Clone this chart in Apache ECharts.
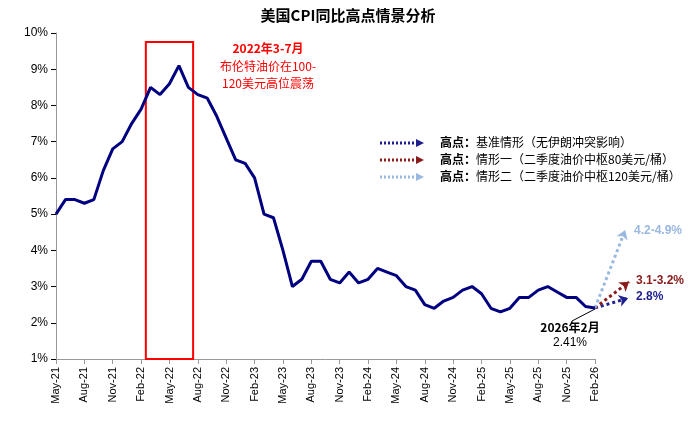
<!DOCTYPE html>
<html><head><meta charset="utf-8">
<script src="https://cdn.jsdelivr.net/npm/echarts@6/dist/echarts.min.js"></script>
<style>body{margin:0}#c{width:696px;height:427px}</style></head>
<body><div id="c"></div>
<script>
// 月份
var months = [];
var mon = ['Jan','Feb','Mar','Apr','May','Jun','Jul','Aug','Sep','Oct','Nov','Dec'];
for (var y = 21; y <= 26; y++) {
	for (var m = 0; m < 12; m++) {
		if (y == 21 && m < 4) continue;
		if (y == 26 && m > 1) break;
		months.push(mon[m] + '-' + y);
	}
}
// CPI同比(%)
var cpi = [5.0, 5.4, 5.4, 5.3, 5.4, 6.2, 6.8, 7.0,
	7.5, 7.9, 8.5, 8.3, 8.6, 9.1, 8.5, 8.3, 8.2, 7.7, 7.1, 6.5,
	6.4, 6.0, 5.0, 4.9, 4.0, 3.0, 3.2, 3.7, 3.7, 3.2, 3.1, 3.4,
	3.1, 3.2, 3.5, 3.4, 3.3, 3.0, 2.9, 2.5, 2.4, 2.6, 2.7, 2.9,
	3.0, 2.8, 2.4, 2.3, 2.4, 2.7, 2.7, 2.9, 3.0, 2.85, 2.7, 2.7,
	2.45, 2.41];
// 情景终点 [x序号, 值]
var scenEnd = [[60.5, 2.68], [60.6, 3.13], [60.2, 4.56]];
var scenColor = ['#1f1f8f', '#8b1a1a', '#9ab8e0'];
var scenLabel = ['2.8%', '3.1-3.2%', '4.2-4.9%'];
var scenName = ['基准情形（无伊朗冲突影响）', '情形一（二季度油价中枢80美元/桶）', '情形二（二季度油价中枢120美元/桶）'];
var yTicks = [1, 10];

var last = cpi.length - 1;
var series = [{
	type: 'line', data: cpi, symbol: 'none',
	lineStyle: { color: '#000080', width: 3 }, z: 5
}, {
	type: 'line', xAxisIndex: 1, data: [], symbol: 'none',
	markArea: {
		silent: true,
		itemStyle: { color: 'rgba(0,0,0,0)', borderColor: '#ff0000', borderWidth: 2 },
		data: [[{ coord: [9.5, 1] }, { coord: [14.5, 9.75] }]]
	}
}];
scenEnd.forEach(function(e, i) {
	series.push({
		type: 'lines', coordinateSystem: 'cartesian2d', xAxisIndex: 1, clip: false, z: 4,
		symbol: ['none', 'arrow'], symbolSize: 9,
		lineStyle: { color: scenColor[i], width: 3, type: 'dotted', opacity: 1 },
		data: [{ coords: [[last, cpi[last]], e] }]
	});
});

var graphic = [{
	type: 'text', left: 'center', top: 8,
	style: { text: '美国CPI同比高点情景分析', font: 'bold 15px "Noto Sans CJK SC"', fill: '#000' }
}, {
	type: 'text', x: 268, y: 42,
	style: { text: '2022年3-7月', font: 'bold 12px "Noto Sans CJK SC"', fill: '#ff0000', align: 'center' }
}, {
	type: 'text', x: 268, y: 58,
	style: { text: '布伦特油价在100-\n120美元高位震荡', font: '12px "Noto Sans CJK SC"', fill: '#ff0000', align: 'center', lineHeight: 17 }
}, {
	type: 'text', x: 570, y: 321,
	style: { text: '2026年2月', font: 'bold 12px "Noto Sans CJK SC"', fill: '#000', align: 'center' }
}, {
	type: 'text', x: 570, y: 337,
	style: { text: '2.41%', font: '12px "Liberation Sans"', fill: '#000', align: 'center' }
}, {
	type: 'line', shape: { x1: 595, y1: 309, x2: 572, y2: 321 }, style: { stroke: '#000', lineWidth: 1 }
}];
scenName.forEach(function(n, i) {
	var yy = 143 + i * 17;
	graphic.push({ type: 'line', shape: { x1: 380, y1: yy, x2: 416, y2: yy },
		style: { stroke: scenColor[i], lineWidth: 3, lineDash: [2, 2] } });
	graphic.push({ type: 'polygon', shape: { points: [[416, yy - 4], [424, yy], [416, yy + 4]] },
		style: { fill: scenColor[i] } });
	graphic.push({ type: 'text', x: 440, y: yy - 7,
		style: { rich: { b: { font: 'bold 12px "Noto Sans CJK SC"' }, n: { font: '12px "Noto Sans CJK SC"' } },
			text: '{b|高点：}{n|' + n + '}', fill: '#000' } });
});
var lblY = [298, 282, 232], lblX = [636, 636, 634];
scenLabel.forEach(function(t, i) {
	graphic.push({ type: 'text', x: lblX[i], y: lblY[i] - 7,
		style: { text: t, font: 'bold 12px "Liberation Sans"', fill: scenColor[i] } });
});

var chart = echarts.init(document.getElementById('c'));
chart.setOption({
	animation: false,
	grid: { left: 56, right: 101, top: 33, bottom: 68 },
	xAxis: [{
		type: 'category', data: months, boundaryGap: false,
		axisLine: { lineStyle: { color: '#999' } },
		axisTick: { interval: 2, lineStyle: { color: '#999' } },
		axisLabel: { interval: 2, rotate: 90, color: '#000', fontSize: 11, fontFamily: 'Liberation Sans' }
	}, {
		type: 'value', min: 0, max: last, show: false
	}],
	yAxis: {
		type: 'value', min: yTicks[0], max: yTicks[1], interval: 1,
		splitLine: { show: false },
		axisLine: { show: true, lineStyle: { color: '#999' } },
		axisTick: { show: true, lineStyle: { color: '#000' } },
		axisLabel: { formatter: '{value}%', color: '#000', fontSize: 12, fontFamily: 'Liberation Sans' }
	},
	series: series,
	graphic: graphic
});
</script></body></html>
